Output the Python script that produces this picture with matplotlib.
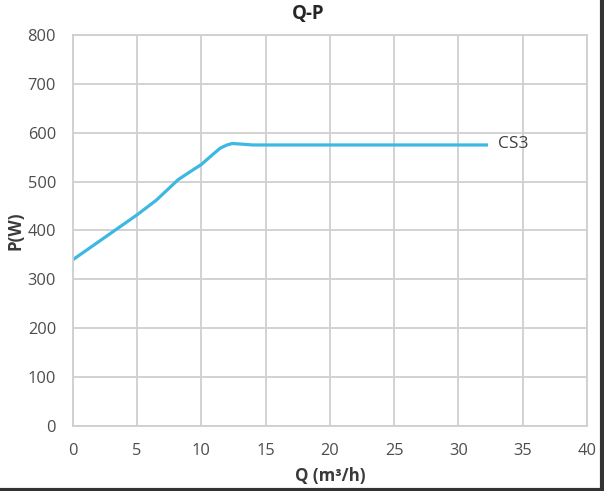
import matplotlib.pyplot as plt
from matplotlib.lines import Line2D

plt.rcParams['font.family'] = ['Open Sans', 'DejaVu Sans']

# Q-P curve of the CS3 pump
flow = [0, 2.5, 5, 6.5, 8.2, 9.0, 10, 11.0, 11.5, 12.0, 12.4, 13.0, 14.0, 20, 25, 32.3]
power = [340, 386, 432, 462, 504, 518, 535, 558, 569, 575, 578, 577, 575, 575, 575, 575]
series_name = "CS3"

x_ticks = list(range(0, 41, 5))
y_ticks = list(range(0, 801, 100))

fig = plt.figure(figsize=(6.04, 4.91), dpi=100)
ax = fig.add_axes([0.1204, 0.1324, 0.8515, 0.7963])

ax.plot(flow, power, color="#3cb8e2", linewidth=2.3, solid_capstyle="butt")
ax.text(33.1, 578, series_name, fontsize=12.5, color="#404040", va="center", ha="left")

ax.set_xlim(0, 40)
ax.set_ylim(0, 800)
ax.set_xticks(x_ticks)
ax.set_yticks(y_ticks)
ax.grid(True, color="#cfcfcf", linewidth=1.3)
ax.set_axisbelow(True)
for side in ax.spines.values():
    side.set_color("#cfcfcf")
    side.set_linewidth(1.3)
ax.tick_params(length=0, labelsize=11.8, labelcolor="#4d4d4d")
ax.tick_params(axis="y", pad=12)
ax.tick_params(axis="x", pad=12)

ax.set_xlabel("Q (m³/h)", fontsize=12.2, fontweight="bold", color="#3a3a3a", labelpad=6)
ax.set_ylabel("P(W)", fontsize=12.2, fontweight="bold", color="#3a3a3a", labelpad=2)
fig.text(308 / 604, 1 - 14 / 491, "Q-P", fontsize=13.5, fontweight="bold",
         ha="center", va="center", color="#262626")

# dark frame at the right and bottom edges of the screenshot
fig.add_artist(Line2D([0, 1], [0.003, 0.003], transform=fig.transFigure, color="#333333", linewidth=3))
fig.add_artist(Line2D([0.997, 0.997], [0, 1], transform=fig.transFigure, color="#333333", linewidth=3))

fig.savefig("out.png", dpi=100)
